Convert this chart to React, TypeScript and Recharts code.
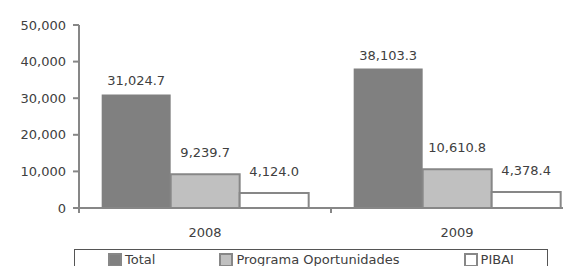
import { BarChart, Bar, XAxis, YAxis, Legend, LabelList } from "recharts";

const years = ["2008", "2009"];
const total = [31024.7, 38103.3];
const oportunidades = [9239.7, 10610.8];
const pibai = [4124.0, 4378.4];
const yTicks = [0, 10000, 20000, 30000, 40000, 50000];
const seriesNames = ["Total", "Programa Oportunidades", "PIBAI"];

const data = years.map((year, i) => ({
  year,
  total: total[i],
  oportunidades: oportunidades[i],
  pibai: pibai[i],
}));

const FONT = "'DejaVu Sans', sans-serif";
const TEXT = "#404040";
const AXIS = "#878787";
const TICK_MARGIN = 24;

const fmtValue = (v: any) =>
  Number(v).toLocaleString("en-US", { minimumFractionDigits: 1, maximumFractionDigits: 1 });

const CategoryTick = (props: any) => {
  const { x, y, payload } = props;
  const axisY = y - TICK_MARGIN;
  const left = x - (payload?.offset ?? 0);
  return (
    <g>
      <line x1={left} x2={left} y1={axisY} y2={axisY + 5} stroke={AXIS} strokeWidth={2} />
      <text x={x} y={y} dy="0.35em" textAnchor="middle" fill={TEXT} fontSize={13} fontFamily={FONT}>
        {payload.value}
      </text>
    </g>
  );
};

const LegendBox = ({ payload }: any) => {
  const items = [...(payload || [])].sort(
    (a: any, b: any) => seriesNames.indexOf(a.value) - seriesNames.indexOf(b.value)
  );
  return (
    <div
      style={{
        border: "1px solid #555",
        height: 30,
        boxSizing: "border-box",
        display: "flex",
        alignItems: "flex-start",
        paddingLeft: 33,
        paddingTop: 2,
        gap: 64,
        fontFamily: FONT,
        fontSize: 13,
        lineHeight: "15px",
        color: TEXT,
      }}
    >
      {items.map((p: any) => (
        <div key={p.value} style={{ display: "flex", alignItems: "center", height: 15 }}>
          <span
            style={{
              display: "inline-block",
              width: 10,
              height: 10,
              background: p.payload?.fill,
              border: `2px solid ${AXIS}`,
              marginRight: 3,
            }}
          />
          {p.value}
        </div>
      ))}
    </div>
  );
};

export default function App() {
  return (
    <div style={{ margin: -8, width: 571, height: 274, overflow: "hidden", position: "relative", background: "#fff" }}>
      <BarChart
        width={600}
        height={274}
        data={data}
        margin={{ top: 25, right: 17, left: 0, bottom: 0 }}
        barCategoryGap="9%"
        barGap={0}
      >
        <XAxis
          dataKey="year"
          height={66}
          axisLine={{ stroke: AXIS, strokeWidth: 2 }}
          tickLine={false}
          tickSize={0}
          tickMargin={TICK_MARGIN}
          tick={<CategoryTick />}
        />
        <YAxis
          width={79}
          domain={[0, 50000]}
          ticks={yTicks}
          axisLine={{ stroke: AXIS, strokeWidth: 2 }}
          tickLine={{ stroke: AXIS, strokeWidth: 2 }}
          tickSize={6}
          tickMargin={7}
          tickFormatter={(v) => v.toLocaleString("en-US")}
          tick={{ fill: TEXT, fontSize: 13, fontFamily: FONT }}
        />
        <Legend
          layout="horizontal"
          verticalAlign="middle"
          align="center"
          wrapperStyle={{ left: 74, top: 249, width: 474, height: 30 }}
          content={<LegendBox />}
        />
        <Bar dataKey="total" name="Total" fill="#808080" isAnimationActive={false}>
          <LabelList dataKey="total" position="top" offset={9} formatter={fmtValue} fill={TEXT} fontSize={13} fontFamily={FONT} />
        </Bar>
        <Bar dataKey="oportunidades" name="Programa Oportunidades" fill="#c0c0c0" stroke={AXIS} strokeWidth={2} isAnimationActive={false}>
          <LabelList dataKey="oportunidades" position="top" offset={17} formatter={fmtValue} fill={TEXT} fontSize={13} fontFamily={FONT} />
        </Bar>
        <Bar dataKey="pibai" name="PIBAI" fill="#ffffff" stroke={AXIS} strokeWidth={2} isAnimationActive={false}>
          <LabelList dataKey="pibai" position="top" offset={17} formatter={fmtValue} fill={TEXT} fontSize={13} fontFamily={FONT} />
        </Bar>
      </BarChart>
    </div>
  );
}
